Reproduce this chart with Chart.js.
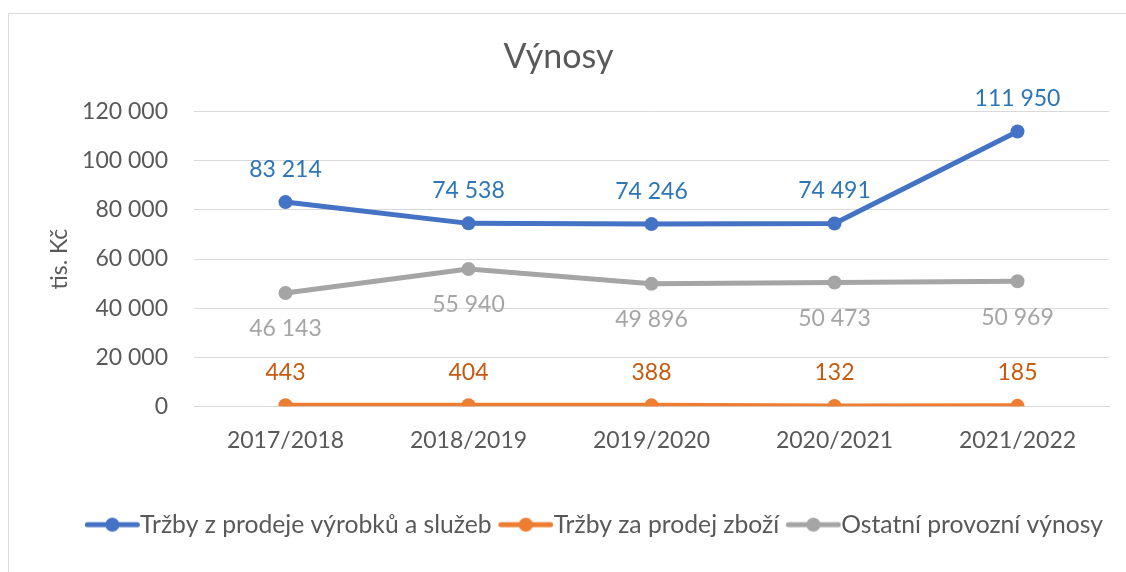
<!DOCTYPE html>
<html>
<head>
<meta charset="utf-8">
<script src="https://cdn.jsdelivr.net/npm/chart.js@4.4.1/dist/chart.umd.min.js"></script>
<style>
  html, body { margin: 0; padding: 0; background: #fff; }
  #wrap { position: relative; width: 1126px; height: 572px; overflow: hidden; }
  #frame { position: absolute; left: 8px; top: 13px; width: 1130px; height: 580px; border: 1px solid #d9d9d9; box-sizing: border-box; }
  #chart { position: absolute; left: 0; top: 0; }
</style>
</head>
<body>
<div id="wrap">
  <div id="frame"></div>
  <canvas id="chart" width="1126" height="572"></canvas>
</div>
<script>
const years = ["2017/2018", "2018/2019", "2019/2020", "2020/2021", "2021/2022"];
const trzbyVyrobky = [83214, 74538, 74246, 74491, 111950];
const trzbyZbozi = [443, 404, 388, 132, 185];
const ostatni = [46143, 55940, 49896, 50473, 50969];

const fontFamily = "Lato, 'Liberation Sans', sans-serif";
const textColor = "#595959";
const legendSize = 24.7;
const markW = 56;

// cislo s mezerou jako oddelovacem tisicu
function fmt(v) {
    return String(Math.round(v)).replace(/\B(?=(\d{3})+(?!\d))/g, " ");
}

// znacka do legendy: cara s koleckem (posunuta doprava, aby text navazoval hned za ni)
function legendMark(color) {
    const shift = legendSize / 2;
    const c = document.createElement("canvas");
    c.width = markW + shift;
    c.height = 16;
    const g = c.getContext("2d");
    g.strokeStyle = color;
    g.lineWidth = 5;
    g.lineCap = "round";
    g.beginPath();
    g.moveTo(shift + 3, 8);
    g.lineTo(shift + markW - 3, 8);
    g.stroke();
    g.fillStyle = color;
    g.beginPath();
    g.arc(shift + markW / 2, 8, 7, 0, Math.PI * 2);
    g.fill();
    return c;
}

// popisky hodnot nad/pod body
const valueLabels = {
    id: "valueLabels",
    afterDatasetsDraw(chart) {
        const ctx = chart.ctx;
        ctx.save();
        ctx.font = "23px " + fontFamily;
        ctx.textAlign = "center";
        ctx.textBaseline = "middle";
        chart.data.datasets.forEach((ds, i) => {
            const meta = chart.getDatasetMeta(i);
            meta.data.forEach((pt, j) => {
                ctx.fillStyle = ds.labelColor;
                ctx.fillText(fmt(ds.data[j]), pt.x, pt.y + ds.labelOffset);
            });
        });
        ctx.restore();
    }
};

const ctx = document.getElementById("chart").getContext("2d");

const chart = new Chart(ctx, {
    type: "line",
    data: {
        labels: years,
        datasets: [{
            label: "Tržby z prodeje výrobků a služeb",
            data: trzbyVyrobky,
            borderColor: "#4472C4",
            backgroundColor: "#4472C4",
            labelColor: "#2E75B6",
            labelOffset: -33,
            mark: legendMark("#4472C4")
        }, {
            label: "Tržby za prodej zboží",
            data: trzbyZbozi,
            borderColor: "#ED7D31",
            backgroundColor: "#ED7D31",
            labelColor: "#C55A11",
            labelOffset: -33,
            mark: legendMark("#ED7D31")
        }, {
            label: "Ostatní provozní výnosy",
            data: ostatni,
            borderColor: "#A5A5A5",
            backgroundColor: "#A5A5A5",
            labelColor: "#A5A5A5",
            labelOffset: 36,
            mark: legendMark("#A5A5A5")
        }]
    },
    options: {
        responsive: false,
        animation: false,
        elements: {
            line: { borderWidth: 5, tension: 0, borderCapStyle: "round", borderJoinStyle: "round" },
            point: { radius: 7, hoverRadius: 7, borderWidth: 0 }
        },
        layout: { padding: { left: 8, right: 17, top: 13, bottom: 25 } },
        plugins: {
            title: {
                display: true,
                text: "Výnosy",
                color: textColor,
                font: { family: fontFamily, size: 34, weight: "normal" },
                padding: { top: 24, bottom: 34 }
            },
            legend: {
                position: "bottom",
                align: "end",
                labels: {
                    color: textColor,
                    font: { family: fontFamily, size: legendSize },
                    usePointStyle: true,
                    pointStyleWidth: markW - legendSize / 2,
                    padding: 6,
                    generateLabels(ch) {
                        return ch.data.datasets.map((ds, i) => ({
                            text: ds.label,
                            fontColor: textColor,
                            pointStyle: ds.mark,
                            datasetIndex: i,
                            hidden: false,
                            lineWidth: 0
                        }));
                    }
                }
            },
            tooltip: { enabled: false }
        },
        scales: {
            x: {
                offset: true,
                grid: { display: false },
                border: { color: "#d9d9d9" },
                ticks: {
                    color: textColor,
                    font: { family: fontFamily, size: 23 },
                    padding: 12
                },
                afterFit(scale) { scale.height = 100; }
            },
            y: {
                min: 0,
                max: 120000,
                grid: { color: "#d9d9d9", drawTicks: false },
                border: { display: false },
                ticks: {
                    stepSize: 20000,
                    color: textColor,
                    font: { family: fontFamily, size: 23 },
                    padding: 26,
                    callback: v => fmt(v)
                },
                title: {
                    display: true,
                    text: "tis. Kč",
                    color: textColor,
                    font: { family: fontFamily, size: 23 },
                    padding: { top: 38, bottom: 0 }
                },
                afterFit(scale) { scale.width = 186; }
            }
        }
    },
    plugins: [valueLabels]
});
</script>
</body>
</html>
